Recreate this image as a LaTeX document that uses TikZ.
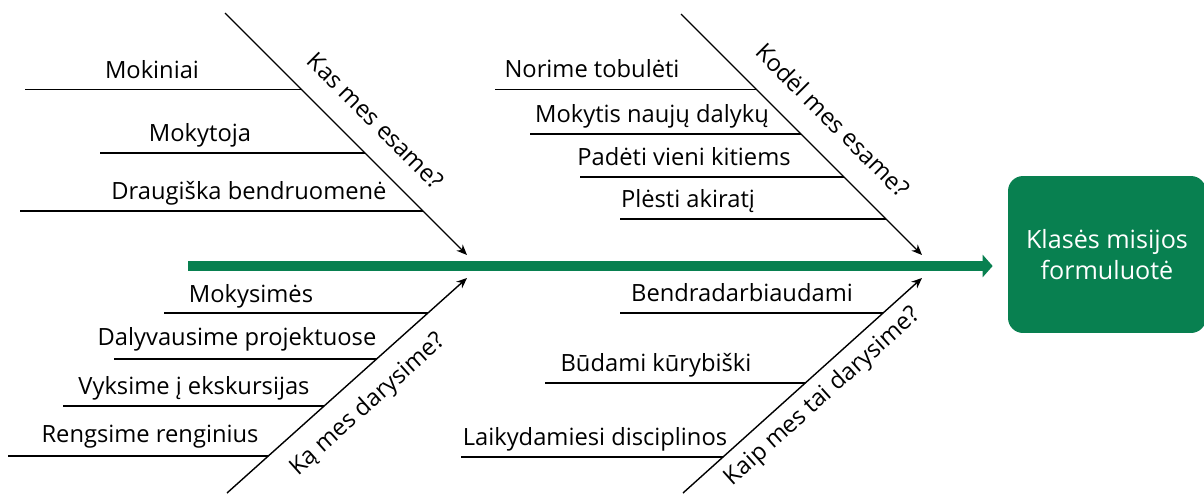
\documentclass[tikz,border=0pt]{standalone}
\usepackage{fontspec}
\setmainfont{Open Sans}
\usetikzlibrary{positioning, arrows.meta, calc}
\definecolor{fishgreen}{RGB}{8,128,80}

\begin{document}
\begin{tikzpicture}[
    x=0.02cm, y=-0.02cm,
    cause/.style={font=\fontsize{13.5}{16}\selectfont, anchor=base, inner sep=0pt},
    question/.style={font=\fontsize{13.5}{16}\selectfont, inner sep=0pt},
    rib/.style={line width=0.8pt},
    bone/.style={line width=0.8pt, -{Stealth[length=6pt, width=5pt]}},
    spine/.style={line width=0.2cm, draw=fishgreen, -{Triangle[length=0.2cm, width=0.44cm]}},
    goal/.style={rectangle, rounded corners=0.3cm, fill=fishgreen, text=white, minimum width=3.96cm, minimum height=3.14cm, align=center, font=\fontsize{14.3}{17.6}\selectfont}
]
\useasboundingbox (0,0) rectangle (1204,495);

% Head of the fish
\node[goal] (mission) at (1107,254.5) {Klasės misijos\\formuluotė};

% Spine
\coordinate (tail) at (188,266);
\draw[spine] (tail) -- ([xshift=-0.3cm]mission.west |- tail);

% Bones
\coordinate (kasTop) at (225,13);
\coordinate (kasTip) at (467,255);
\coordinate (kodelTop) at (681,14);
\coordinate (kodelTip) at (922,255);
\coordinate (kaBottom) at (227,493);
\coordinate (kaTip) at (467,278);
\coordinate (kaipBottom) at (683,493);
\coordinate (kaipTip) at (922,278);
\draw[bone] (kasTop) -- (kasTip);
\draw[bone] (kodelTop) -- (kodelTip);
\draw[bone] (kaBottom) -- (kaTip);
\draw[bone] (kaipBottom) -- (kaipTip);

% Bone labels
\node[question, rotate=-45] (kas) at (376,121) {Kas mes esame?};
\node[question, rotate=-45] (kodel) at (833,120) {Kodėl mes esame?};
\node[question, rotate=41.9] (ka) at (368,405) {Ką mes darysime?};
\node[question, rotate=41.9] (kaip) at (823,397) {Kaip mes tai darysime?};

% Kas mes esame?
\draw[rib] (25,89.5) -- (301.5,89.5);
\draw[rib] (100,153) -- (365,153);
\draw[rib] (20,211) -- (423,211);
\node[cause] (mokiniai) at (152,78) {Mokiniai};
\node[cause] (mokytoja) at (200,141) {Mokytoja};
\node[cause] (bendruomene) at (249,199) {Draugiška bendruomenė};

% Kodel mes esame?
\draw[rib] (495,89.5) -- (756.5,89.5);
\draw[rib] (530,134) -- (801,134);
\draw[rib] (580,177) -- (844,177);
\draw[rib] (620,219) -- (886,219);
\node[cause] (tobuleti) at (592,77.5) {Norime tobulėti};
\node[cause] (mokytis) at (652,122) {Mokytis naujų dalykų};
\node[cause] (padeti) at (684,165) {Padėti vieni kitiems};
\node[cause] (plesti) at (688,207) {Plėsti akiratį};

% Ka mes darysime?
\draw[rib] (164,313) -- (428,313);
\draw[rib] (114,359) -- (376.6,359);
\draw[rib] (63,406) -- (324,406);
\draw[rib] (8,456) -- (268,456);
\node[cause] (mokysimes) at (251,302) {Mokysimės};
\node[cause] (projektai) at (237,345) {Dalyvausime projektuose};
\node[cause] (ekskursijos) at (194,394) {Vyksime į ekskursijas};
\node[cause] (renginiai) at (150,442) {Rengsime renginius};

% Kaip mes tai darysime?
\draw[rib] (620,313) -- (883,313);
\draw[rib] (545,383) -- (805,383);
\draw[rib] (461,457) -- (723,457);
\node[cause] (bendradarbiaudami) at (742,301) {Bendradarbiaudami};
\node[cause] (kurybiski) at (656,371) {Būdami kūrybiški};
\node[cause] (disciplina) at (595,445) {Laikydamiesi disciplinos};

\end{tikzpicture}
\end{document}
